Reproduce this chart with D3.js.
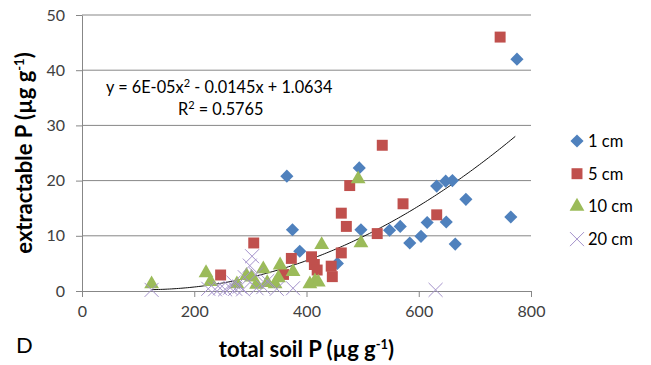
<!DOCTYPE html>
<html>
<head>
<meta charset="UTF-8">
<script src="https://d3js.org/d3.v7.min.js"></script>
<style>
  body { margin: 0; background: #fff; font-family: Lato, "Open Sans", sans-serif; }
  .tick text { font-size: 16px; fill: #404040; font-family: Lato, sans-serif; }
  .lab { font-size: 22px; font-weight: bold; fill: #000; }
</style>
</head>
<body>
<svg id="chart" width="651" height="365"></svg>
<script>
// series: [total soil P, extractable P]
const cm1 = [[365,20.8],[375,11.1],[388,7.2],[455,5.0],[494,22.3],[497,11.1],[548,11.0],[567,11.7],
  [584,8.7],[604,9.9],[615,12.4],[632,19.0],[648,19.9],[660,20.0],[649,12.5],[665,8.5],[684,16.6],
  [764,13.4],[775,42.0]];
const cm5 = [[247,2.9],[306,8.7],[359,3.0],[373,5.9],[409,6.2],[414,4.8],[419,3.8],[444,4.5],[446,2.6],
  [462,6.9],[462,14.1],[471,11.7],[477,19.1],[526,10.4],[535,26.4],[572,15.8],[632,13.8],[745,46.0]];
const cm10 = [[124,1.1],[221,3.1],[229,1.5],[276,1.1],[293,2.6],[302,2.3],[311,1.0],[323,3.8],[330,1.3],
  [344,1.1],[350,2.2],[353,4.5],[376,3.3],[406,1.1],[415,1.6],[421,1.4],[427,8.2],[492,20.1],[497,8.5]];
const cm20 = [[124,0.2],[225,0.4],[237,0.3],[246,0.5],[255,0.3],[264,0.6],[270,1.5],[273,0.4],[281,0.8],
  [287,0.3],[290,2.5],[299,4.6],[303,6.3],[310,3.0],[311,0.5],[323,0.7],[330,1.8],[347,0.4],[376,0.5],[630,0.2]];
const seriesNames = ["1 cm", "5 cm", "10 cm", "20 cm"];
const xTicks = [0, 200, 400, 600, 800];
const yTicks = [0, 10, 20, 30, 40, 50];
// trendline as fitted (coefficients a bit more precise than the label)
const fit = [6.4e-5, -0.0145, 1.0634];

const margin = { top: 15, left: 82, w: 449, h: 276 };
const svg = d3.select("#chart");
const g = svg.append("g").attr("transform", `translate(${margin.left},${margin.top})`);

const x = d3.scaleLinear().domain([0, 800]).range([0, margin.w]);
const y = d3.scaleLinear().domain([0, 50]).range([margin.h, 0]);

// gridlines
g.selectAll(".grid").data(yTicks.slice(1)).enter().append("line")
  .attr("x1", 0).attr("x2", margin.w)
  .attr("y1", d => y(d)).attr("y2", d => y(d))
  .attr("stroke", "#878787").attr("stroke-width", 1);

const xAxis = g.append("g").attr("transform", `translate(0,${margin.h})`)
  .call(d3.axisBottom(x).tickValues(xTicks).tickSize(6).tickSizeOuter(0).tickPadding(9));
const yAxis = g.append("g")
  .call(d3.axisLeft(y).tickValues(yTicks).tickSize(6).tickSizeOuter(0).tickPadding(11));
[xAxis, yAxis].forEach(a => {
  a.select(".domain").attr("stroke", "#878787");
  a.selectAll(".tick line").attr("stroke", "#878787");
});

// trendline
const xs = d3.range(124, 776, 4);
g.append("path")
  .datum(xs)
  .attr("fill", "none").attr("stroke", "#111").attr("stroke-width", 1)
  .attr("d", d3.line().x(d => x(d)).y(d => y(fit[0] * d * d + fit[1] * d + fit[2])));

const colors = ["#4F81BD", "#C0504D", "#9BBB59", "#A492CB"];
const sym = [d3.symbol().type(d3.symbolDiamond2).size(110),
             d3.symbol().type(d3.symbolSquare).size(120),
             d3.symbol().type(d3.symbolTriangle).size(95),
             d3.symbol().type(d3.symbolTimes).size(130)];

function drawMarker(sel, i) {
  if (i === 3) {
    sel.attr("d", sym[3]()).attr("fill", "none").attr("stroke", colors[3]).attr("stroke-width", 1);
  } else {
    sel.attr("d", sym[i]()).attr("fill", colors[i]);
  }
}

[cm1, cm5, cm10, cm20].forEach((data, i) => {
  g.append("g").selectAll("path").data(data).enter().append("path")
    .attr("transform", d => `translate(${x(d[0])},${y(d[1]) - (i === 2 ? 1 : 0)})`)
    .call(drawMarker, i);
});

// legend
const leg = svg.append("g").attr("transform", "translate(577,141)");
seriesNames.forEach((name, i) => {
  const row = leg.append("g").attr("transform", `translate(0,${i * 32.7})`);
  row.append("path").call(drawMarker, i);
  row.append("text").attr("x", 11).attr("y", 6)
    .attr("font-size", 16.5).attr("fill", "#000").text(name);
});

// equation
svg.append("text").attr("x", 106).attr("y", 93).attr("font-size", 16.3)
  .html('y = 6E-05x<tspan dy="-6" font-size="11">2</tspan><tspan dy="6"> - 0.0145x + 1.0634</tspan>');
svg.append("text").attr("x", 178).attr("y", 115).attr("font-size", 16.3)
  .html('R<tspan dy="-6" font-size="11">2</tspan><tspan dy="6"> = 0.5765</tspan>');

// axis titles
svg.append("text").attr("class", "lab")
  .attr("x", margin.left + margin.w / 2).attr("y", 357).attr("text-anchor", "middle")
  .html('total soil P (µg g<tspan dy="-8" font-size="13">-1</tspan><tspan dy="8">)</tspan>');
svg.append("text").attr("class", "lab")
  .attr("transform", `translate(32,${margin.top + margin.h / 2}) rotate(-90)`)
  .attr("text-anchor", "middle")
  .html('extractable P (µg g<tspan dy="-8" font-size="13">-1</tspan><tspan dy="8">)</tspan>');

svg.append("text").attr("x", 16).attr("y", 353).attr("font-size", 22).attr("fill", "#000").text("D");
</script>
</body>
</html>
